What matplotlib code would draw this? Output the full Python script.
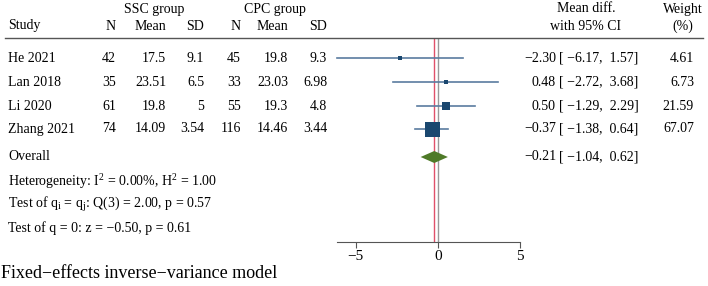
import numpy as np
import matplotlib
matplotlib.use('Agg')
import matplotlib.pyplot as plt

plt.rcParams['font.family'] = ['Liberation Serif', 'DejaVu Serif']
plt.rcParams['mathtext.fontset'] = 'custom'
plt.rcParams['mathtext.rm'] = 'Liberation Serif'
plt.rcParams['mathtext.it'] = 'Liberation Serif:italic'

## data
studies = ['He 2021', 'Lan 2018', 'Li 2020', 'Zhang 2021']
ssc_n = [42, 35, 61, 74]
ssc_mean = [17.5, 23.51, 19.8, 14.09]
ssc_sd = [9.1, 6.5, 5, 3.54]
cpc_n = [45, 33, 55, 116]
cpc_mean = [19.8, 23.03, 19.3, 14.46]
cpc_sd = [9.3, 6.98, 4.8, 3.44]
md = [-2.30, 0.48, 0.50, -0.37]
ci_lo = [-6.17, -2.72, -1.29, -1.38]
ci_hi = [1.57, 3.68, 2.29, 0.64]
weight = [4.61, 6.73, 21.59, 67.07]
overall = -0.21
overall_lo = -1.04
overall_hi = 0.62
xticks = [-5, 0, 5]

W, H = 708, 286
fig = plt.figure(figsize=(W / 100, H / 100), dpi=100)
FS = 10
MINUS = '\u2212'

def fx(x):
    return x / W

def fy(y):
    return 1 - y / H

def txt(x, y, s, ha='left', fs=FS, **kw):
    fig.text(fx(x), fy(y), s, ha=ha, va='center', fontsize=fs, **kw)

def num(v, fmt='%.2f'):
    return (fmt % v).replace('-', MINUS)

# row layout (pixels)
row_y = [58, 82, 106, 129]
overall_y = 157

# header
txt(154, 9, 'SSC group', ha='center')
txt(275, 9, 'CPC group', ha='center')
txt(8, 26, 'Study')
col_x = [116, 166, 204, 241, 288, 327]
for x, s in zip(col_x, ['N', 'Mean', 'SD', 'N', 'Mean', 'SD']):
    txt(x, 26, s, ha='right')
txt(586, 9, 'Mean diff.', ha='center')
txt(586, 26, 'with 95% CI', ha='center')
txt(683, 9, 'Weight', ha='center')
txt(683, 26, '(%)', ha='center')
fig.add_artist(plt.Line2D([fx(5), fx(703)], [fy(38), fy(38)], color='#555555', lw=1.0))

# study rows
for i, s in enumerate(studies):
    y = row_y[i]
    txt(8, y, s)
    vals = [ssc_n[i], ssc_mean[i], ssc_sd[i], cpc_n[i], cpc_mean[i], cpc_sd[i]]
    for x, v in zip(col_x, vals):
        txt(x, y, '%g' % v, ha='right')
    txt(556, y, num(md[i]), ha='right')
    txt(559, y, '[ %s,  %s]' % (num(ci_lo[i]), num(ci_hi[i])))
    txt(694, y, '%.2f' % weight[i], ha='right')

txt(8, overall_y, 'Overall')
txt(556, overall_y, num(overall), ha='right')
txt(559, overall_y, '[ %s,  %s]' % (num(overall_lo), num(overall_hi)))

txt(8, 182, r'Heterogeneity: I$^{2}$ = 0.00%, H$^{2}$ = 1.00')
txt(8, 205, r'Test of q$_\mathrm{i}$ = q$_\mathrm{j}$: Q(3) = 2.00, p = 0.57')
txt(8, 228, 'Test of q = 0: z = %s0.50, p = 0.61' % MINUS)
txt(1, 274, 'Fixed%seffects inverse%svariance model' % (MINUS, MINUS), fs=13)

# forest axes: 0 at px 437.7, 16.4 px per unit; y in pixel rows
x0, ppu = 437.7, 16.4
ax_l, ax_r = 330, 530
ax_t, ax_b = 38, 242
ax = fig.add_axes([fx(ax_l), fy(ax_b), (ax_r - ax_l) / W, (ax_b - ax_t) / H])
ax.set_xlim((ax_l - x0) / ppu, (ax_r - x0) / ppu)
ax.set_ylim(ax_b, ax_t)
ax.patch.set_alpha(0)

ax.axvline(0, color='#999999', lw=1.0, zorder=1)
ax.axvline(overall, color='#e0506a', lw=1.0, zorder=1)

for i in range(len(studies)):
    ax.plot([ci_lo[i], ci_hi[i]], [row_y[i], row_y[i]], color='#5a7ca0', lw=1.2, zorder=2)
    side = 15 * np.sqrt(weight[i] / max(weight))
    ax.plot(md[i], row_y[i], 's', color='#1a476f', ms=side * 0.72, mew=0, zorder=3)

dh = 6
ax.fill([overall_lo, overall, overall_hi, overall], [overall_y, overall_y - dh, overall_y, overall_y + dh],
        color='#4f7a28', lw=0, zorder=3)

for sp in ['top', 'left', 'right']:
    ax.spines[sp].set_visible(False)
ax.spines['bottom'].set_bounds(min(ci_lo), max(xticks))
ax.spines['bottom'].set_color('#555555')
ax.set_yticks([])
ax.set_xticks(xticks)
ax.set_xticklabels([num(t, '%d') for t in xticks], fontsize=11)
ax.tick_params(axis='x', length=4, width=0.8, color='#555555', pad=2)

fig.savefig('out.png', dpi=100)
